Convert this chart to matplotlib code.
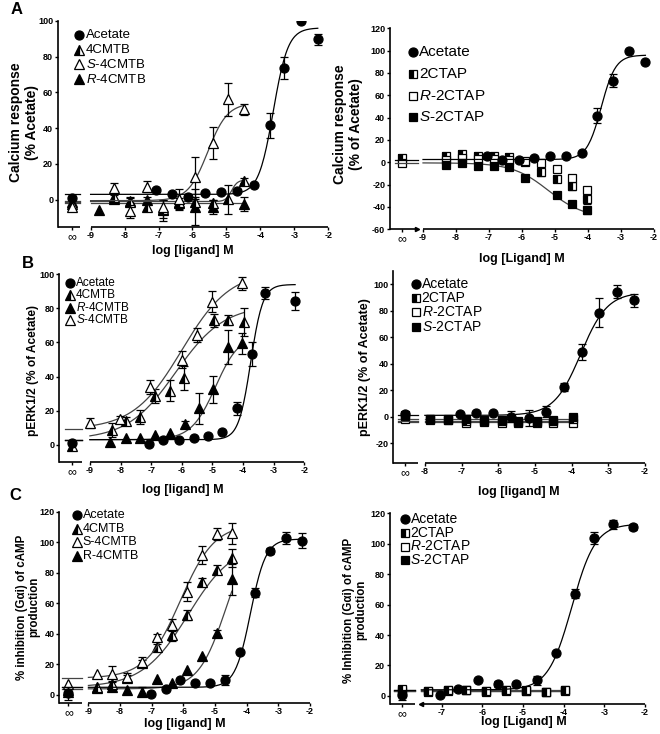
import numpy as np
import matplotlib
matplotlib.use("Agg")
import matplotlib.pyplot as plt
from matplotlib.lines import Line2D

plt.rcParams['font.family'] = ['Liberation Sans', 'DejaVu Sans']
plt.rcParams['mathtext.fontset'] = 'custom'
plt.rcParams['mathtext.rm'] = 'Liberation Sans'
plt.rcParams['mathtext.it'] = 'Liberation Sans:italic'
plt.rcParams['axes.unicode_minus'] = False

W, H = 660, 734
NA = np.nan
VEH = -np.inf  # vehicle, shown at the "∞" tick

# fits: (low-conc plateau, high-conc plateau, logEC50, hill slope)

# ---- A left: calcium, 4CMTB ----
a1_ace_x = [VEH, -7.07, -6.59, -6.12, -5.64, -5.15, -4.68, -4.19, -3.73, -3.29, -2.80, -2.31]
a1_ace_y = [1.1, 5.4, 3.2, 1.7, 3.5, 4.1, 5.0, 8.0, 41.7, 73.7, 100.0, 89.6]
a1_ace_e = [0, 0, 0, 0, 0, 0, 0, 0, 7, 6, 0, 3]
a1_ace_fit = (3, 96, -3.62, 2.0)
a1_tri_x = [VEH, -8.30, -7.83, -7.33, -6.86, -6.39, -5.92, -5.41, -4.95, -4.49]
a1_cmtb_y = [-2.4, 1.7, -1.1, -3.9, -5.0, -1.0, -1.5, -2.0, 0.2, 10.6]
a1_cmtb_e = [0, 2, 2, 2, 5, 0, 2, 2, 8, 1.5]
a1_cmtb_fit = (-1, 11, -4.85, 5.0)
a1_s_y = [-3.8, 6.3, -6.5, 7.3, -4.0, 0.2, 12.8, 31.5, 56.0, 50.6]
a1_s_e = [0, 3, 3.5, 3, 0, 6, 11, 9, 9, 3]
a1_s_fit = (-0.5, 54, -5.55, 1.5)
a1_r_x = [VEH, -8.75, -8.30, -7.83, -7.33, -6.86, -6.39, -5.92, -5.41, -4.49]
a1_r_y = [-1.0, -5.8, 0.5, -0.5, -0.3, -6.0, -2.0, -4.0, -4.0, -2.5]
a1_r_e = [0, 0, 2, 2, 2, 6, 3, 10, 4, 4]
a1_r_fit = (-2, -2, -5.0, 1.0)

# ---- A right: calcium, 2CTAP ----
a2_ace_x = [-7.07, -6.60, -6.10, -5.64, -5.15, -4.68, -4.18, -3.73, -3.24, -2.76, -2.26]
a2_ace_y = [5.8, 2.4, 1.7, 3.8, 5.4, 5.4, 8.0, 41.8, 73.0, 100.0, 90.0]
a2_ace_e = [0, 0, 0, 0, 0, 0, 0, 7, 6, 0, 0]
a2_ace_fit = (2.5, 96, -3.6, 2.0)
a2_sq_x = [VEH, -8.30, -7.82, -7.34, -6.86, -6.40, -5.90, -5.42, -4.94, -4.49, -4.03]
a2_ctap_y = [4.0, 6.0, 7.0, 6.0, 6.0, 5.0, 0.0, -9.0, -15.0, -21.5, -33.0]
a2_ctap_e = [0, 0, 0, 0, 0, 0, 0, 3, 3, 3, 4]
a2_r_y = [-0.6, 2.0, 4.0, 3.0, 3.0, 2.0, 1.0, -0.6, -6.0, -14.0, -25.0]
a2_r_e = [0, 0, 0, 0, 0, 0, 0, 0, 2, 2, 3]
a2_s_y = [NA, -2.0, -0.5, -3.6, -3.6, -4.2, -14.0, NA, -29.6, -37.0, -43.0]
a2_s_e = [0, 0, 0, 0, 0, 0, 0, 0, 0, 0, 3]
a2_s_fit = (-0.5, -50, -5.2, 0.8)

# ---- B left: pERK, 4CMTB ----
b1_ace_x = [VEH, -7.07, -6.60, -6.10, -5.60, -5.14, -4.68, -4.19, -3.72, -3.27, -2.30]
b1_ace_y = [0.8, 0.6, 2.7, 2.7, 4.1, 5.1, 7.4, 21.3, 53.0, 89.2, 84.3]
b1_ace_e = [0, 0, 0, 0, 0, 0, 0, 4, 7, 3.5, 5.5]
b1_ace_fit = (3, 94, -3.75, 2.2)
b1_cmtb_x = [VEH, -8.29, -7.82, -7.37, -6.88, -6.39, -5.93, -4.95, -4.48, -3.96]
b1_cmtb_y = [-1.0, 8.6, 14.0, 16.4, 28.6, 31.7, 39.0, 73.0, 73.0, 72.0]
b1_cmtb_e = [2, 4, 2, 4, 4, 6, 7, 4, 3, 8]
b1_cmtb_fit = (3, 82, -6.2, 0.55)
b1_s_x = [-9.00, -8.02, -7.04, -6.00, -5.50, -5.03, -4.02]
b1_s_y = [12.9, 15.0, 34.0, 50.0, 64.4, 84.0, 94.7]
b1_s_e = [3, 2, 4, 5, 4, 6, 4]
b1_s_fit = (9, 102, -6.0, 0.55)
b1_r_x = [-8.33, -7.82, -7.37, -6.88, -6.39, -5.90, -5.43, -4.97, -4.48, -4.02]
b1_r_y = [1.8, 3.7, 3.7, 5.7, 7.0, 12.1, 21.3, 32.5, 57.5, 59.5]
b1_r_e = [0, 0, 0, 0, 0, 2, 9, 8, 10, 6]
b1_r_fit = (3, 65, -4.9, 1.1)

# ---- B right: pERK, 2CTAP ----
b2_ace_x = [VEH, -7.05, -6.60, -6.14, -5.64, -5.16, -4.70, -4.20, -3.71, -3.25, -2.77, -2.30]
b2_ace_y = [2.0, 2.0, 3.0, 3.0, 0.0, -1.3, 3.8, 22.7, 49.0, 78.6, 94.5, 88.0]
b2_ace_e = [0, 0, 0, 0, 4, 6, 4, 3, 6, 11, 5, 5]
b2_ace_fit = (1.0, 94, -3.75, 1.2)
b2_sq_x = [VEH, -7.86, -7.36, -6.88, -6.40, -5.90, -5.45, -4.95, -4.50, -3.97]
b2_ctap_y = [0.5, -2.0, -2.5, -3.0, -3.0, -3.5, -4.0, -4.0, -3.5, -2.0]
b2_r_y = [-2.0, -2.5, -2.5, -4.5, -4.0, -4.5, -5.0, -5.0, -4.5, -4.5]
b2_s_y = [1.0, -1.5, -2.0, -2.0, -2.5, -2.5, -3.0, -3.0, -2.5, -0.5]
b2_ctap_fit = (-3.0, -3.0, -5.0, 1.0)
b2_r_fit = (-4.3, -4.3, -5.0, 1.0)
b2_s_fit = (-2.0, -2.0, -5.0, 1.0)

# ---- C left: cAMP, 4CMTB ----
c1_ace_x = [VEH, -7.03, -6.56, -6.10, -5.63, -5.16, -4.68, -4.21, -3.74, -3.26, -2.77, -2.26]
c1_ace_y = [1.0, 0.5, 3.8, 9.8, 7.6, 7.6, 9.8, 27.9, 67.0, 94.2, 102.5, 100.8]
c1_ace_e = [4, 0, 0, 0, 0, 0, 3, 0, 3, 2, 4, 5]
c1_ace_fit = (5, 102, -3.88, 1.8)
c1_tri_x = [VEH, -8.74, -8.26, -7.79, -7.32, -6.84, -6.37, -5.90, -5.42, -4.95, -4.47]
c1_cmtb_y = [3.0, 5.5, 7.2, 11.0, 21.0, 31.2, 39.3, 52.3, 74.2, 81.8, 89.4]
c1_cmtb_e = [0, 0, 2, 2, 2, 2, 4, 3, 2, 3, 6]
c1_cmtb_fit = (5, 100, -5.85, 0.6)
c1_s_y = [7.2, 13.7, 13.7, 11.6, 21.8, 37.7, 45.8, 67.6, 91.6, 105.3, 105.8]
c1_s_e = [0, 0, 5, 3, 3, 2, 4, 6, 6, 4, 7]
c1_s_fit = (11, 112, -6.1, 0.8)
c1_r_y = [2.0, 4.5, 5.5, 3.3, 2.2, 10.3, 8.0, 16.4, 25.5, 40.3, 75.7]
c1_r_e = [0, 0, 0, 0, 3, 0, 0, 0, 0, 2, 10]
c1_r_fit = (4, 110, -4.65, 1.0)

# ---- C right: cAMP, 2CTAP ----
c2_ace_x = [VEH, -7.04, -6.59, -6.10, -5.62, -5.16, -4.66, -4.20, -3.72, -3.25, -2.78, -2.30]
c2_ace_y = [0.4, 0.9, 4.3, 10.2, 7.6, 7.6, 10.2, 28.0, 67.2, 103.7, 112.8, 110.7]
c2_ace_e = [3, 0, 0, 0, 2, 0, 3, 0, 3, 4, 3, 2]
c2_ace_fit = (4, 113, -3.8, 1.5)
c2_sq_x = [VEH, -7.33, -6.84, -6.39, -5.90, -5.42, -4.93, -4.43, -3.97]
c2_ctap_y = [4.3, 3.3, 3.7, 4.1, 3.3, 4.1, 3.7, 2.6, 3.7]
c2_r_y = [2.6, 3.0, 3.3, 3.7, 3.0, 3.7, 3.3, 2.8, 3.5]
c2_s_y = [4.0, 2.8, 4.0, 4.0, 2.6, 3.5, 3.5, 2.6, 3.9]
c2_ctap_fit = (3.7, 3.7, -5.0, 1.0)
c2_r_fit = (3.3, 3.3, -5.0, 1.0)
c2_s_fit = (3.0, 3.0, -5.0, 1.0)

ACE = dict(marker='o', markersize=6.5, markerfacecolor='black')
HALF_TRI = dict(marker='^', markersize=7, markerfacecolor='black',
                markerfacecoloralt='white', fillstyle='left')
OPEN_TRI = dict(marker='^', markersize=7, markerfacecolor='white')
FILL_TRI = dict(marker='^', markersize=7, markerfacecolor='black')
HALF_SQ = dict(marker='s', markersize=6.3, markerfacecolor='black',
               markerfacecoloralt='white', fillstyle='left')
OPEN_SQ = dict(marker='s', markersize=6.3, markerfacecolor='white')
FILL_SQ = dict(marker='s', markersize=6.3, markerfacecolor='black')


def hill(x, fit):
    lo, hi, ec50, h = fit
    return lo + (hi - lo) / (1 + 10 ** ((ec50 - x) * h))


fig = plt.figure(figsize=(W / 100, H / 100), dpi=100)


def panel(box, xlim, ylim, yticks, xticks, vpos, brk, series):
    l, t, r, b = box
    ax = fig.add_axes([l / W, 1 - b / H, (r - l) / W, (b - t) / H])
    ax.set_xlim(*xlim)
    ax.set_ylim(*ylim)
    for sp in ('top', 'right', 'bottom'):
        ax.spines[sp].set_visible(False)
    ax.spines['left'].set_linewidth(1.2)
    tr = ax.get_xaxis_transform()
    for x0, x1 in ((xlim[0], brk[0]), (brk[1], xlim[1])):
        ax.plot([x0, x1], [0, 0], transform=tr, color='k', lw=1.2,
                clip_on=False, solid_capstyle='butt')
    ax.set_xticks([vpos] + list(xticks))
    ax.set_xticklabels(['∞'] + ['%d' % v for v in xticks])
    ax.set_yticks(yticks)
    ax.tick_params(length=2.5, width=1, labelsize=6.5, pad=1)
    ax.tick_params(axis='x', pad=0.5)
    for lab in ax.get_xticklabels() + ax.get_yticklabels():
        lab.set_fontweight('bold')
    ax.get_xticklabels()[0].set_fontsize(9)
    ax.get_xticklabels()[0].set_fontweight('normal')
    for x, y, e, fit, style in series:
        x = np.asarray(x, float)
        y = np.asarray(y, float)
        e = np.asarray(e, float)
        xp = np.where(np.isneginf(x), vpos, x)
        if fit is not None:
            col = 'black' if style is ACE else '#444444'
            ax.plot([vpos - 0.2, brk[0]], [fit[0], fit[0]], color=col, lw=0.9)
            xs = np.linspace(brk[1], np.nanmax(x), 200)
            ax.plot(xs, hill(xs, fit), color=col, lw=0.9)
        m = e > 0
        ax.errorbar(xp[m], y[m], yerr=e[m], fmt='none', ecolor='k',
                    elinewidth=0.9, capsize=2.7, capthick=0.9)
        ax.plot(xp, y, ls='none', markeredgecolor='k', markeredgewidth=0.9, **style)
    return ax


def legend(x, y, dy, fs, off, entries):
    for i, (label, style) in enumerate(entries):
        yy = 1 - (y + i * dy) / H
        fig.add_artist(Line2D([x / W], [yy], transform=fig.transFigure, ls='none',
                              markeredgecolor='k', markeredgewidth=0.9, **style))
        fig.text((x + off) / W, yy, label, fontsize=fs, va='center')


def label(px, py, s, fs, rot=0):
    fig.text(px / W, 1 - py / H, s, fontsize=fs, fontweight='bold', rotation=rot,
             ha='center', va='center', multialignment='center', linespacing=1.1)


S_ = r'$\mathit{S}$'
R_ = r'$\mathit{R}$'

# A left
panel((58, 20.7, 328.3, 226.6), (-9.96, -2), (-15, 100), range(0, 101, 20),
      range(-9, -1), -9.556, (-9.31, -9.0),
      [(a1_r_x, a1_r_y, a1_r_e, a1_r_fit, FILL_TRI),
       (a1_tri_x, a1_cmtb_y, a1_cmtb_e, a1_cmtb_fit, HALF_TRI),
       (a1_tri_x, a1_s_y, a1_s_e, a1_s_fit, OPEN_TRI),
       (a1_ace_x, a1_ace_y, a1_ace_e, a1_ace_fit, ACE)])
legend(78.5, 35, 14.7, 9.5, 7, [('Acetate', ACE), ('4CMTB', HALF_TRI),
                                (S_ + '-4CMTB', OPEN_TRI), (R_ + '-4CMTB', FILL_TRI)])
label(24, 122, 'Calcium response\n(% Acetate)', 10, 90)
label(193, 251, 'log [ligand] M', 9)

# A right
axa2 = panel((390, 28.3, 654, 229.3), (-10, -2), (-60, 120), range(-60, 121, 20),
             range(-9, -1), -9.64, (-9.16, -9.0),
             [(a2_sq_x, a2_ctap_y, a2_ctap_e, None, HALF_SQ),
              (a2_sq_x, a2_r_y, a2_r_e, None, OPEN_SQ),
              (a2_sq_x, a2_s_y, a2_s_e, a2_s_fit, FILL_SQ),
              (a2_ace_x, a2_ace_y, a2_ace_e, a2_ace_fit, ACE)])
axa2.plot([-9.18], [0], marker='>', ms=3, color='k', transform=axa2.get_xaxis_transform(),
          clip_on=False)
legend(413.3, 51.7, 21.9, 11, 5.5, [('Acetate', ACE), ('2CTAP', HALF_SQ),
                                    (R_ + '-2CTAP', OPEN_SQ), (S_ + '-2CTAP', FILL_SQ)])
label(348, 124, 'Calcium response\n(% of Acetate)', 10, 90)
label(522, 259, 'log [Ligand] M', 9)

# B left
panel((59.3, 274.3, 304.3, 461.8), (-10, -2), (-10, 100), range(0, 101, 20),
      range(-9, -1), -9.6, (-9.27, -9.0),
      [(b1_r_x, b1_r_y, b1_r_e, b1_r_fit, FILL_TRI),
       (b1_cmtb_x, b1_cmtb_y, b1_cmtb_e, b1_cmtb_fit, HALF_TRI),
       (b1_s_x, b1_s_y, b1_s_e, b1_s_fit, OPEN_TRI),
       (b1_ace_x, b1_ace_y, b1_ace_e, b1_ace_fit, ACE)])
legend(70, 282.7, 12.4, 8.5, 6, [('Acetate', ACE), ('4CMTB', HALF_TRI),
                                 (R_ + '-4CMTB', FILL_TRI), (S_ + '-4CMTB', OPEN_TRI)])
label(33, 370, 'pERK1/2 (% of Acetate)', 8.6, 90)
label(183, 490, 'log [ligand] M', 9)

# B right
panel((393.3, 271.1, 645, 463), (-8.86, -2), (-35, 110), range(-20, 101, 20),
      range(-8, -1), -8.545, (-8.18, -8.0),
      [(b2_sq_x, b2_r_y, np.zeros(10), b2_r_fit, OPEN_SQ),
       (b2_sq_x, b2_ctap_y, np.zeros(10), b2_ctap_fit, HALF_SQ),
       (b2_sq_x, b2_s_y, np.zeros(10), b2_s_fit, FILL_SQ),
       (b2_ace_x, b2_ace_y, b2_ace_e, b2_ace_fit, ACE)])
legend(416, 284, 14.2, 10, 5.5, [('Acetate', ACE), ('2CTAP', HALF_SQ),
                                 (R_ + '-2CTAP', OPEN_SQ), (S_ + '-2CTAP', FILL_SQ)])
label(365, 367, 'pERK1/2 (% of Acetate)', 9, 90)
label(519, 492, 'log [ligand] M', 9)

# C left
panel((59.3, 511.5, 310, 702.6), (-9.92, -2), (-5, 120), range(0, 121, 20),
      range(-9, -1), -9.63, (-9.21, -9.0),
      [(c1_tri_x, c1_r_y, c1_r_e, c1_r_fit, FILL_TRI),
       (c1_tri_x, c1_cmtb_y, c1_cmtb_e, c1_cmtb_fit, HALF_TRI),
       (c1_tri_x, c1_s_y, c1_s_e, c1_s_fit, OPEN_TRI),
       (c1_ace_x, c1_ace_y, c1_ace_e, c1_ace_fit, ACE)])
legend(76.7, 515, 13.7, 9, 6, [('Acetate', ACE), ('4CMTB', HALF_TRI),
                               ('S-4CMTB', OPEN_TRI), ('R-4CMTB', FILL_TRI)])
label(28, 607, '% inhibition (Gαi) of cAMP\nproduction', 8.3, 90)
label(185, 724, 'log [ligand] M', 9)

# C right
axc2 = panel((390, 513.3, 645, 703.5), (-8.27, -2), (-5, 120), range(0, 121, 20),
             range(-7, -1), -7.98, (-7.65, -7.5),
             [(c2_sq_x, c2_r_y, np.zeros(9), c2_r_fit, OPEN_SQ),
              (c2_sq_x, c2_s_y, np.zeros(9), c2_s_fit, FILL_SQ),
              (c2_sq_x, c2_ctap_y, np.zeros(9), c2_ctap_fit, HALF_SQ),
              (c2_ace_x, c2_ace_y, c2_ace_e, c2_ace_fit, ACE)])
axc2.plot([-7.5], [0], marker='<', ms=3, color='k', transform=axc2.get_xaxis_transform(),
          clip_on=False)
legend(405, 519.3, 13.6, 10, 5.5, [('Acetate', ACE), ('2CTAP', HALF_SQ),
                                   (R_ + '-2CTAP', OPEN_SQ), (S_ + '-2CTAP', FILL_SQ)])
label(355, 610, '% Inhibition (Gαi) of cAMP\nproduction', 8.3, 90)
label(524, 722.5, 'log [Ligand] M', 9)

# panel letters
for px, py, s in ((17, 10, 'A'), (28, 263, 'B'), (15, 495, 'C')):
    fig.text(px / W, 1 - py / H, s, fontsize=12, fontweight='bold', ha='center', va='center')

fig.savefig('out.png', dpi=100)
